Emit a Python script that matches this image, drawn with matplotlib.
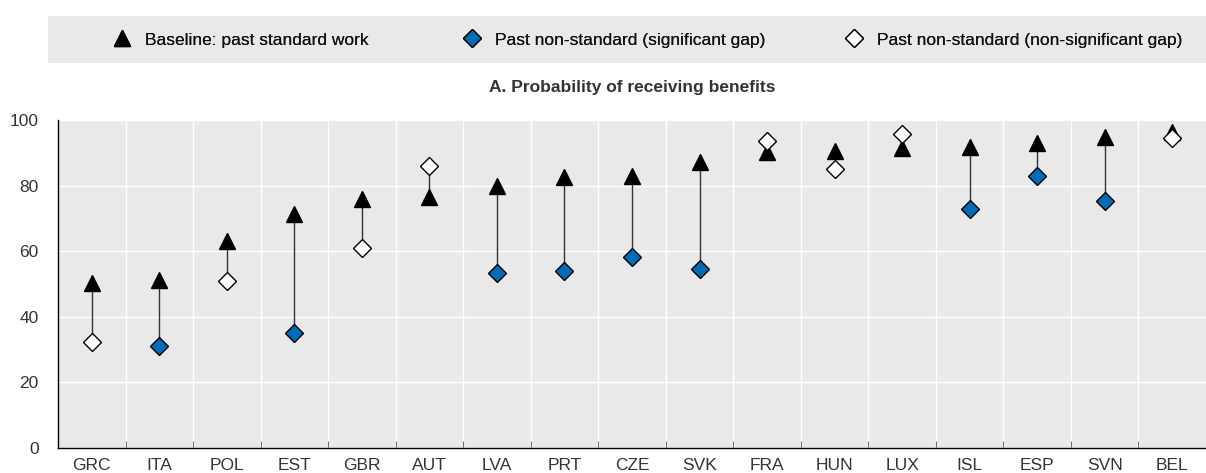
import matplotlib
matplotlib.use("Agg")
import matplotlib.pyplot as plt
import numpy as np
from matplotlib.lines import Line2D
from matplotlib.patches import Rectangle

countries = ["GRC", "ITA", "POL", "EST", "GBR", "AUT", "LVA", "PRT", "CZE", "SVK",
             "FRA", "HUN", "LUX", "ISL", "ESP", "SVN", "BEL"]
baseline = [50.2, 51.2, 63.1, 71.2, 76.0, 76.4, 79.9, 82.7, 82.9, 87.2,
            90.3, 90.6, 91.6, 91.7, 93.1, 94.7, 96.4]
nonstandard = [32.2, 31.1, 51.0, 35.2, 60.9, 86.1, 53.3, 54.1, 58.3, 54.7,
               93.6, 85.2, 95.6, 73.0, 82.9, 75.4, 94.5]
significant = [False, True, False, True, False, False, True, True, True, True,
               False, False, False, True, True, True, False]
legend_labels = ["Baseline: past standard work", "Past non-standard (significant gap)",
                 "Past non-standard (non-significant gap)"]

plt.rcParams['font.family'] = ['Liberation Sans', 'DejaVu Sans']

BG = "#e9e9e9"
BLUE = "#006bb6"
TXT = "#333333"
W, H = 1206, 473

fig = plt.figure(figsize=(W / 100, H / 100), dpi=100)
fig.patches.append(Rectangle((48 / W, 1 - 63 / H), 1 - 48 / W, 47 / H,
                             transform=fig.transFigure, facecolor=BG,
                             edgecolor="none", zorder=0))

ax = fig.add_axes([58 / W, 1 - 448 / H, 1 - 58 / W, (448 - 120) / H])
ax.set_facecolor(BG)

x = np.arange(len(countries))
for i in x:
    ax.plot([i, i], [nonstandard[i], baseline[i]], color="#333333", lw=1.0, zorder=2)

ax.plot(x, baseline, linestyle="none", marker="^", ms=12, color="black", zorder=3)
sig = np.array(significant)
ns = np.array(nonstandard)
ax.plot(x[sig], ns[sig], linestyle="none", marker="D", ms=9,
        markerfacecolor=BLUE, markeredgecolor="black", markeredgewidth=1.0, zorder=4)
ax.plot(x[~sig], ns[~sig], linestyle="none", marker="D", ms=9,
        markerfacecolor="white", markeredgecolor="black", markeredgewidth=1.0, zorder=4)

ax.set_xlim(-0.5, len(countries) - 0.5)
ax.set_ylim(0, 100)
ax.set_yticks(np.arange(0, 101, 20))
ax.set_xticks(x)
ax.set_xticklabels(countries)
ax.set_xticks(np.arange(0.5, len(countries) - 0.5, 1), minor=True)
ax.tick_params(axis="x", which="major", length=0, labelsize=12.5, colors=TXT, pad=7)
ax.tick_params(axis="x", which="minor", length=5, direction="in", color="#555555")
ax.tick_params(axis="y", length=0, labelsize=12.5, colors=TXT, pad=14)
ax.grid(axis="y", color="white", lw=1.0)
ax.grid(axis="x", which="minor", color="white", lw=1.0)
ax.set_axisbelow(True)
for s in ["top", "right"]:
    ax.spines[s].set_visible(False)
for s in ["left", "bottom"]:
    ax.spines[s].set_color("black")
    ax.spines[s].set_linewidth(1.0)

ax.set_title("A. Probability of receiving benefits", fontsize=12.5, fontweight="bold",
             color=TXT, pad=20)

handles = [
    Line2D([], [], linestyle="none", marker="^", ms=12, color="black"),
    Line2D([], [], linestyle="none", marker="D", ms=9, markerfacecolor=BLUE,
           markeredgecolor="black"),
    Line2D([], [], linestyle="none", marker="D", ms=9, markerfacecolor="white",
           markeredgecolor="black"),
]
marker_centers = [122, 472, 854]
hl_px = 12.5 * 100 / 72  # handlelength 1.0 in px
for h, lab, mc in zip(handles, legend_labels, marker_centers):
    ax_x = (mc - hl_px / 2) / W
    leg = fig.legend([h], [lab], loc="center left", bbox_to_anchor=(ax_x, 1 - 40 / H),
                     frameon=False, fontsize=12.5, handlelength=1.0,
                     handletextpad=0.82, borderpad=0, borderaxespad=0)
    for t in leg.get_texts():
        t.set_color("#111111")
    fig.add_artist(leg)

fig.savefig("out.png", dpi=100)
